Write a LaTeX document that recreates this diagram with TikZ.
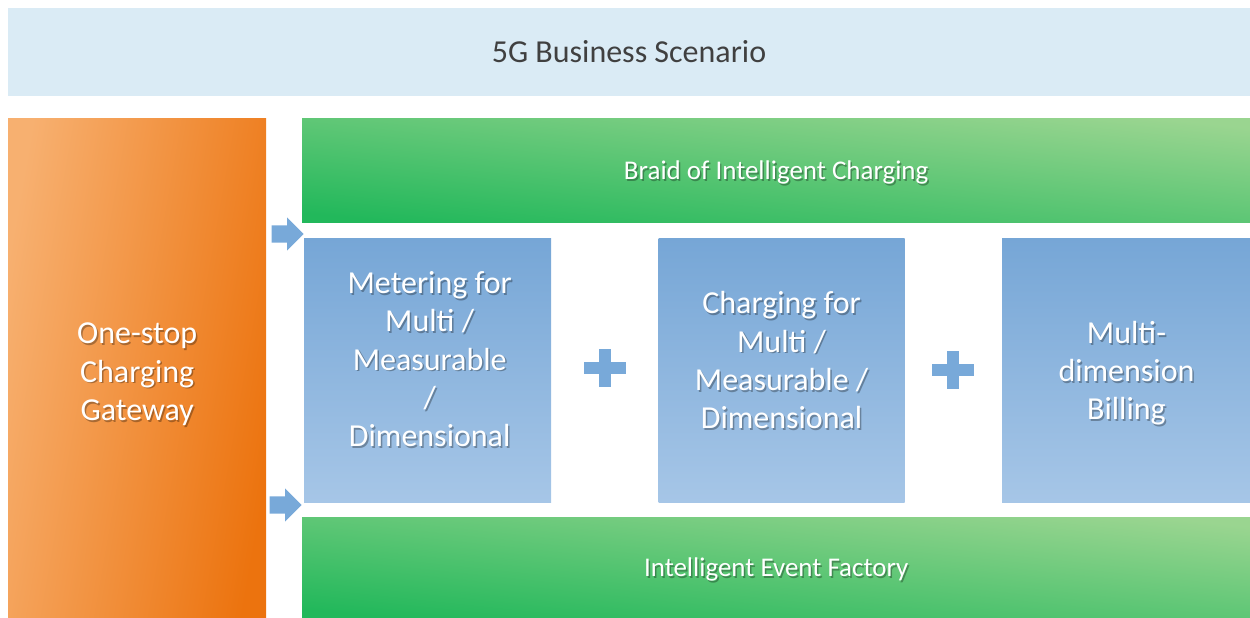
\documentclass[tikz,border=0pt]{standalone}
\usepackage{fontspec}
\setmainfont{Carlito}
\usetikzlibrary{positioning}
\usetikzlibrary{shapes.arrows}
\usetikzlibrary{calc}
\definecolor{scenariobg}{HTML}{DAEBF5}
\definecolor{scenariotext}{HTML}{404040}
\definecolor{orangelight}{HTML}{F7B070}
\definecolor{orangedark}{HTML}{EC730E}
\definecolor{greenlight}{HTML}{9AD590}
\definecolor{greendark}{HTML}{22B85B}
\definecolor{bluetop}{HTML}{76A6D6}
\definecolor{bluemid}{HTML}{7EACDA}
\definecolor{bluebottom}{HTML}{A6C6E7}
\definecolor{arrowblue}{HTML}{78A9D9}
\tikzstyle{scenario} = [rectangle, fill=scenariobg, inner sep=0, text=scenariotext, font=\fontsize{32}{38}\selectfont]
\tikzstyle{gateway} = [rectangle, inner sep=0, top color=orangelight, bottom color=orangedark, shading angle=80]
\tikzstyle{braid} = [rectangle, inner sep=0, top color=greenlight, bottom color=greendark, shading angle=-6]
\tikzstyle{metric} = [rectangle, inner sep=0, top color=bluetop, middle color=bluemid, bottom color=bluebottom]
\tikzstyle{feed} = [single arrow, fill=arrowblue, inner xsep=0, inner ysep=8.5pt, minimum height=32pt, single arrow head extend=8pt]
\tikzstyle{plusfill} = [fill=arrowblue]
\tikzstyle{lbl} = [text=white, align=center, inner sep=0, font=\fontsize{32}{38.3}\selectfont]
\tikzstyle{lblsmall} = [lbl, font=\fontsize{27}{32}\selectfont]
% white text with a soft drop shadow under it
\newcommand{\castlabel}[4]{%
  \node[#2, text=black, text opacity=0.3] (#1-shadow) at ($(#3)+(1.5,1.8)$) {#4};
  \node[#2] (#1) at (#3) {#4};}

\begin{document}
\begin{tikzpicture}[x=1pt, y=-1pt]
\useasboundingbox (0,0) rectangle (1250,618);

\node[scenario, minimum width=1242pt, minimum height=88pt] (scenario) at (629,52) {5G Business Scenario};

\node[gateway, minimum width=258pt, minimum height=500pt, anchor=north west] (gateway) at (8,118) {};
\node[braid, minimum width=948pt, minimum height=104pt, anchor=north west] (braid) at (302,118) {};
\node[braid, minimum width=948pt, minimum height=101pt, anchor=north west] (factory) at (302,517) {};

\node[metric, minimum width=247pt, minimum height=264pt, anchor=north west] (metering) at (304,238) {};
\node[metric, minimum width=246pt, minimum height=264pt, right=107pt of metering] (charging) {};
\node[metric, minimum width=249pt, minimum height=264pt, right=97pt of charging] (billing) {};

\node[feed, anchor=tip] (feedtop) at (304,234) {};
\node[feed, anchor=tip] (feedbottom) at (302,505) {};

\coordinate (plusA) at ($(metering.east)!0.5!(charging.west)+(0,-2)$);
\coordinate (plusB) at ($(charging.east)!0.5!(billing.west)$);
\foreach \p in {plusA, plusB} {
  \fill[plusfill] ($(\p)+(-21,-6)$) rectangle ($(\p)+(21,6)$);
  \fill[plusfill] ($(\p)+(-6,-19)$) rectangle ($(\p)+(6,19)$);
}

\castlabel{gatewaytext}{lbl}{$(gateway.center)+(0,6)$}{One-stop\\Charging\\Gateway}
\castlabel{braidtext}{lblsmall}{$(braid.center)+(0,2)$}{Braid of Intelligent Charging}
\castlabel{factorytext}{lblsmall}{$(factory.center)+(0,2)$}{Intelligent Event Factory}
\castlabel{meteringtext}{lbl}{$(metering.center)+(2,-11)$}{Metering for\\Multi /\\Measurable\\/\\Dimensional}
\castlabel{chargingtext}{lbl}{$(charging.center)+(0,-10)$}{Charging for\\Multi /\\Measurable /\\Dimensional}
\castlabel{billingtext}{lbl}{$(billing.center)+(0,3)$}{Multi-\\dimension\\Billing}

\end{tikzpicture}
\end{document}
